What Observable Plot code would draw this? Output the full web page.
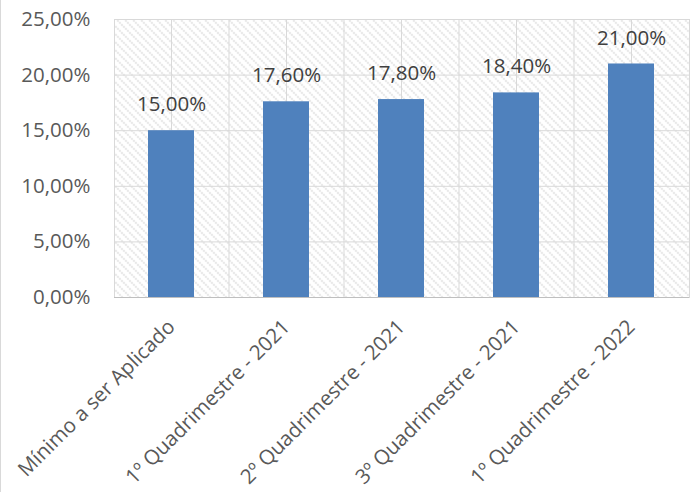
<!DOCTYPE html>
<html>
<head>
<meta charset="utf-8">
<script src="https://cdn.jsdelivr.net/npm/d3@7"></script>
<script src="https://cdn.jsdelivr.net/npm/@observablehq/plot@0.6"></script>
<style>
  html, body { margin: 0; padding: 0; background: #fff; }
  #chart { width: 696px; height: 492px; box-sizing: border-box; border-left: 1px solid #d9d9d9; overflow: hidden; }
  #chart svg { display: block; }
</style>
</head>
<body>
<div id="chart"></div>
<script>
const categories = [
  "Mínimo a ser Aplicado",
  "1º Quadrimestre - 2021",
  "2º Quadrimestre - 2021",
  "3º Quadrimestre - 2021",
  "1º Quadrimestre - 2022"
];
const values = [0.15, 0.176, 0.178, 0.184, 0.21];
const yTicks = [0, 0.05, 0.10, 0.15, 0.20, 0.25];

const data = categories.map((c, i) => ({category: c, value: values[i]}));
const fmt = v => (v * 100).toFixed(2).replace(".", ",") + "%";

const W = 696, H = 492;
const ML = 114, MR = 7, MT = 19, MB = 195;
const padIn = 0.6, padOut = 0.3;
const step = (W - ML - MR) / (categories.length - padIn + 2 * padOut);

const plot = Plot.plot({
  width: W - 1,
  height: H,
  marginLeft: ML - 1,
  marginRight: MR,
  marginTop: MT,
  marginBottom: MB,
  style: {fontFamily: "'Open Sans', sans-serif", fontSize: "20px", color: "#595959", background: "#fff"},
  x: {domain: categories, paddingInner: padIn, paddingOuter: padOut, label: null},
  y: {domain: [0, 0.25], ticks: yTicks, label: null},
  marks: [
    Plot.frame({fill: "url(#hatch)", stroke: "#d9d9d9"}),
    Plot.ruleY(yTicks, {stroke: "#d9d9d9", strokeWidth: 1}),
    Plot.ruleX(categories, {stroke: "#d9d9d9", strokeWidth: 1}),
    Plot.ruleX(categories.slice(1), {stroke: "#d9d9d9", strokeWidth: 1, dx: -step / 2}),
    Plot.barY(data, {x: "category", y: "value", fill: "#4f81bd"}),
    Plot.ruleY([0], {stroke: "#bfbfbf", strokeWidth: 1}),
    Plot.text(data, {x: "category", y: "value", text: d => fmt(d.value), dy: -26, fill: "#404040", fontSize: 20.5}),
    Plot.axisY({ticks: yTicks, tickFormat: fmt, tickSize: 0, tickPadding: 24, fontSize: 20.5}),
    Plot.axisX({tickSize: 0, tickRotate: -45, tickPadding: 26, fontSize: 20.5})
  ]
});

const svg = d3.select(plot);
const defs = svg.insert("defs", ":first-child");
const pat = defs.append("pattern")
  .attr("id", "hatch")
  .attr("patternUnits", "userSpaceOnUse")
  .attr("width", 8).attr("height", 8);
pat.append("rect").attr("width", 8).attr("height", 8).attr("fill", "#ffffff");
pat.append("path")
  .attr("d", "M-2,-2 L10,10 M-2,6 L2,10 M6,-2 L10,2")
  .attr("stroke", "#c2c2c2").attr("stroke-width", 1.2).attr("stroke-dasharray", "1.4,1.4");

document.getElementById("chart").appendChild(plot);
</script>
</body>
</html>
